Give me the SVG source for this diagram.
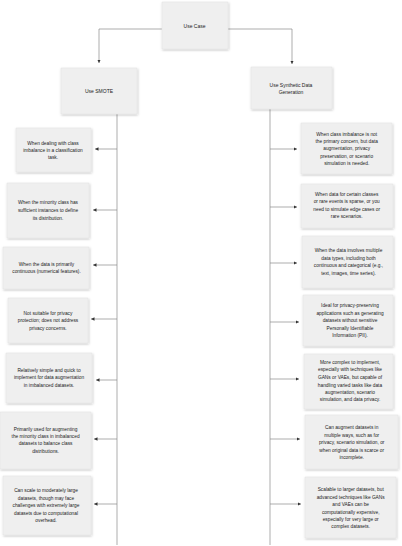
<svg xmlns="http://www.w3.org/2000/svg" width="402" height="546" viewBox="0 0 402 546">
<style>
.box{fill:#efefef;stroke:#e2e2e2;stroke-width:0.5;filter:url(#sh)}
.t{font-family:"Liberation Sans",Arial,sans-serif;font-size:4.8px;fill:#222;text-anchor:middle;dominant-baseline:central}
.h{font-size:5px}
.c{fill:none;stroke:#8a8a8a;stroke-width:0.7}
</style>
<defs>
<filter id="sh" x="-10%" y="-10%" width="130%" height="130%">
<feDropShadow dx="0.6" dy="1" stdDeviation="0.8" flood-color="#000" flood-opacity="0.25"/>
</filter>
<marker id="a" viewBox="0 0 6 6" refX="6" refY="3" markerWidth="3.5" markerHeight="3.5" markerUnits="userSpaceOnUse" orient="auto">
<path d="M0,0 L6,3 L0,6 z" fill="#333"/>
</marker>
</defs>
<rect width="402" height="546" fill="#fff"/>
<g id="connectors">
<path class="c" d="M162,29 H99 V63" marker-end="url(#a)"/>
<path class="c" d="M228,29 H292 V64" marker-end="url(#a)"/>
<path class="c" d="M117,114 V545"/>
<path class="c" d="M270,109 V545"/>
<path class="c" d="M117,149 H95" marker-end="url(#a)"/>
<path class="c" d="M117,210 H93" marker-end="url(#a)"/>
<path class="c" d="M117,265 H93" marker-end="url(#a)"/>
<path class="c" d="M117,319 H91" marker-end="url(#a)"/>
<path class="c" d="M117,380 H96" marker-end="url(#a)"/>
<path class="c" d="M117,439 H94" marker-end="url(#a)"/>
<path class="c" d="M117,504 H94" marker-end="url(#a)"/>
<path class="c" d="M270,149 H297" marker-end="url(#a)"/>
<path class="c" d="M270,207 H297" marker-end="url(#a)"/>
<path class="c" d="M270,263 H297" marker-end="url(#a)"/>
<path class="c" d="M270,322 H299" marker-end="url(#a)"/>
<path class="c" d="M270,379 H299" marker-end="url(#a)"/>
<path class="c" d="M270,439 H300" marker-end="url(#a)"/>
<path class="c" d="M270,504 H301" marker-end="url(#a)"/>
</g>
<g id="usecase"><rect class="box" x="162" y="2" width="66" height="47"/><text class="t h" x="194.5" y="25.7">Use Case</text></g>
<g id="smote"><rect class="box" x="61" y="68" width="76" height="46"/><text class="t h" x="99" y="90.7">Use SMOTE</text></g>
<g id="synth"><rect class="box" x="251" y="67" width="81" height="42"/><text class="t h" x="291" y="84.7">Use Synthetic Data</text><text class="t h" x="291" y="92">Generation</text></g>

<g id="l1"><rect class="box" x="16" y="128" width="75" height="44"/>
<text class="t" x="53" y="143.3">When dealing with class</text><text class="t" x="53" y="150.5">imbalance in a classification</text><text class="t" x="53" y="157.7">task.</text></g>
<g id="l2"><rect class="box" x="7" y="183" width="82" height="55"/>
<text class="t" x="48" y="202.7">When the minority class has</text><text class="t" x="48" y="210">sufficient instances to define</text><text class="t" x="48" y="218.3">its distribution.</text></g>
<g id="l3"><rect class="box" x="3" y="247" width="86" height="42"/>
<text class="t" x="46.5" y="264">When the data is primarily</text><text class="t" x="46.5" y="271.7">continuous (numerical features).</text></g>
<g id="l4"><rect class="box" x="8" y="298" width="80" height="45"/>
<text class="t" x="48" y="313.3">Not suitable for privacy</text><text class="t" x="48" y="320.7">protection; does not address</text><text class="t" x="48" y="328">privacy concerns.</text></g>
<g id="l5"><rect class="box" x="6" y="353" width="86" height="50"/>
<text class="t" x="49" y="370">Relatively simple and quick to</text><text class="t" x="49" y="377.7">implement for data augmentation</text><text class="t" x="49" y="385.3">in imbalanced datasets.</text></g>
<g id="l6"><rect class="box" x="0" y="412" width="91" height="57"/>
<text class="t" x="45.6" y="429">Primarily used for augmenting</text><text class="t" x="45.6" y="436.3">the minority class in imbalanced</text><text class="t" x="45.6" y="443.7">datasets to balance class</text><text class="t" x="45.6" y="451">distributions.</text></g>
<g id="l7"><rect class="box" x="3" y="476" width="88" height="59"/>
<text class="t" x="46" y="490.7">Can scale to moderately large</text><text class="t" x="46" y="498.3">datasets, though may face</text><text class="t" x="46" y="505.7">challenges with extremely large</text><text class="t" x="46" y="513.3">datasets due to computational</text><text class="t" x="46" y="520.7">overhead.</text></g>

<g id="r1"><rect class="box" x="301" y="123" width="91" height="51"/>
<text class="t" x="346.7" y="134">When class imbalance is not</text><text class="t" x="346.7" y="141.3">the primary concern, but data</text><text class="t" x="346.7" y="148.7">augmentation, privacy</text><text class="t" x="346.7" y="156">preservation, or scenario</text><text class="t" x="346.7" y="163.3">simulation is needed.</text></g>
<g id="r2"><rect class="box" x="301" y="184" width="92" height="44"/>
<text class="t" x="346.7" y="194">When data for certain classes</text><text class="t" x="346.7" y="201.7">or rare events is sparse, or you</text><text class="t" x="346.7" y="209.3">need to simulate edge cases or</text><text class="t" x="346.7" y="216.7">rare scenarios.</text></g>
<g id="r3"><rect class="box" x="302" y="236" width="91" height="52"/>
<text class="t" x="348.5" y="250.7">When the data involves multiple</text><text class="t" x="348.5" y="258.3">data types, including both</text><text class="t" x="348.5" y="265.7">continuous and categorical (e.g.,</text><text class="t" x="348.5" y="273.3">text, images, time series).</text></g>
<g id="r4"><rect class="box" x="303" y="295" width="90" height="51"/>
<text class="t" x="350" y="305.7">Ideal for privacy-preserving</text><text class="t" x="350" y="313.3">applications such as generating</text><text class="t" x="350" y="320.7">datasets without sensitive</text><text class="t" x="350" y="328">Personally Identifiable</text><text class="t" x="350" y="335.3">Information (PII).</text></g>
<g id="r5"><rect class="box" x="304" y="354" width="89" height="55"/>
<text class="t" x="350" y="362.3">More complex to implement,</text><text class="t" x="350" y="369.7">especially with techniques like</text><text class="t" x="350" y="377.3">GANs or VAEs, but capable of</text><text class="t" x="350" y="385">handling varied tasks like data</text><text class="t" x="350" y="392.3">augmentation, scenario</text><text class="t" x="350" y="399.7">simulation, and data privacy.</text></g>
<g id="r6"><rect class="box" x="305" y="415" width="93" height="54"/>
<text class="t" x="351.7" y="427.7">Can augment datasets in</text><text class="t" x="351.7" y="435">multiple ways, such as for</text><text class="t" x="351.7" y="442.3">privacy, scenario simulation, or</text><text class="t" x="351.7" y="450">when original data is scarce or</text><text class="t" x="351.7" y="457.3">incomplete.</text></g>
<g id="r7"><rect class="box" x="305" y="477" width="91" height="61"/>
<text class="t" x="350.7" y="489.3">Scalable to larger datasets, but</text><text class="t" x="350.7" y="497">advanced techniques like GANs</text><text class="t" x="350.7" y="504.3">and VAEs can be</text><text class="t" x="350.7" y="512">computationally expensive,</text><text class="t" x="350.7" y="519.3">especially for very large or</text><text class="t" x="350.7" y="526.7">complex datasets.</text></g>
</svg>
